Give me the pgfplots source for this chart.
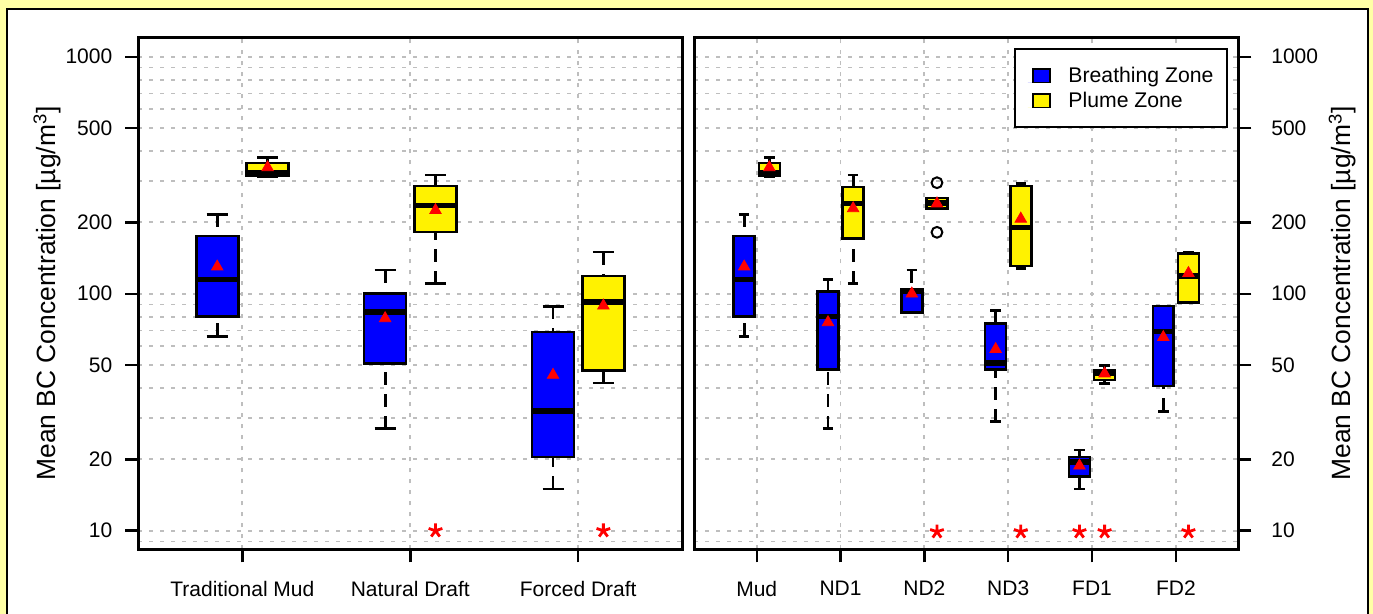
\documentclass[border=0pt]{standalone}
\usepackage{fontspec}
\setmainfont{Liberation Sans}
\usepackage{pgfplots}
\pgfplotsset{compat=1.18}

\definecolor{bgyellow}{RGB}{255,255,166}
\definecolor{gridgray}{RGB}{190,190,190}

\tikzset{
  whisk/.style={black, line width=1.4pt, dash pattern=on 6.5pt off 4.5pt},
  capline/.style={black, line width=1.4pt},
  boxfill/.style={draw=black, line width=1.3pt},
  medline/.style={black, line width=2.8pt},
}

% one box: position, lower whisker, lower quartile, median, upper quartile, upper whisker, fill
\newcommand{\bcbox}[7]{%
  \pgfmathsetmacro\bxa{#1-0.125}%
  \pgfmathsetmacro\bxb{#1+0.125}%
  \pgfmathsetmacro\bca{#1-0.0625}%
  \pgfmathsetmacro\bcb{#1+0.0625}%
  \edef\bcdo{%
    \noexpand\addplot[forget plot, whisk, mark=none] coordinates {(#1,#2) (#1,#3)};
    \noexpand\addplot[forget plot, capline, mark=none] coordinates {(\bca,#2) (\bcb,#2)};
    \noexpand\addplot[forget plot, whisk, mark=none] coordinates {(#1,#6) (#1,#5)};
    \noexpand\addplot[forget plot, capline, mark=none] coordinates {(\bca,#6) (\bcb,#6)};
    \noexpand\addplot[forget plot, boxfill, fill=#7, mark=none] coordinates {(\bxa,#3) (\bxb,#3) (\bxb,#5) (\bxa,#5) (\bxa,#3)} -- cycle;
    \noexpand\addplot[forget plot, medline, mark=none] coordinates {(\bxa,#4) (\bxb,#4)};
  }\bcdo}

\begin{document}
\begin{tikzpicture}
\useasboundingbox (0,0) rectangle (686.5pt,307pt);
\fill[bgyellow] (0,0) rectangle (686.5pt,307pt);
\filldraw[fill=white, draw=black, line width=1pt] (3.5pt,-5pt) rectangle (684pt,302.5pt);

% stove types
\begin{axis}[at={(69.15pt,32.35pt)}, anchor=south west,
  scale only axis, width=272pt, height=256pt,
  ymode=log, ymin=8.348, ymax=1207.6,
  ytick={10,20,50,100,200,500,1000},
  yticklabels={10,20,50,100,200,500,1000},
  minor ytick={9,30,40,60,70,80,90,300,400,600,700,800,900},
  ymajorgrids, yminorgrids, xmajorgrids,
  minor grid style={gridgray, line width=0.9pt, dash pattern=on 2pt off 3.5pt},
  major grid style={gridgray, line width=0.9pt, dash pattern=on 2pt off 3.5pt},
  tick align=outside, major tick length=6.5pt, minor tick length=0pt,
  tick style={black, line width=1.2pt},
  axis line style={line width=1.3pt},
  xtick pos=left, ytick pos=left,
  tick label style={font=\fontsize{10.5}{12}\selectfont},
  yticklabel style={xshift=-3pt},
  xticklabel style={yshift=-6pt},
  ylabel={Mean BC Concentration [µg/m\textsuperscript{3}]},
  ylabel style={font=\fontsize{13.2}{15}\selectfont, anchor=base, at={(axis description cs:-0.1531,0.5)}},
  xmin=0.38, xmax=3.62, xtick={1,2,3},
  xticklabels={Traditional Mud,Natural Draft,Forced Draft}]
  \bcbox{0.85}{66.1}{80.1}{115}{175}{216}{blue}
  \bcbox{1.15}{312}{314}{324}{356}{376}{yellow}
  \bcbox{1.85}{26.9}{50.9}{83.7}{100.4}{126}{blue}
  \bcbox{2.15}{110}{182}{236}{285}{317}{yellow}
  \bcbox{2.85}{15}{20.5}{32}{68.9}{88.5}{blue}
  \bcbox{3.15}{42}{47.3}{92}{118.8}{150}{yellow}
  \addplot[forget plot, only marks, mark=triangle*, mark size=3.3pt, mark options={draw=red, fill=red}]
    coordinates {(0.85,130) (1.15,341) (1.85,78.7) (2.15,225) (2.85,45.4) (3.15,89)};
  \addplot[forget plot, only marks, mark=star, mark size=3.6pt, mark options={draw=red, line width=1.4pt}]
    coordinates {(2.15,10) (3.15,10)};
\end{axis}

% individual stoves
\begin{axis}[at={(347.15pt,32.35pt)}, anchor=south west,
  scale only axis, width=272pt, height=256pt,
  ymode=log, ymin=8.348, ymax=1207.6,
  ytick={10,20,50,100,200,500,1000},
  yticklabels={10,20,50,100,200,500,1000},
  minor ytick={9,30,40,60,70,80,90,300,400,600,700,800,900},
  ymajorgrids, yminorgrids, xmajorgrids,
  minor grid style={gridgray, line width=0.9pt, dash pattern=on 2pt off 3.5pt},
  major grid style={gridgray, line width=0.9pt, dash pattern=on 2pt off 3.5pt},
  tick align=outside, major tick length=6.5pt, minor tick length=0pt,
  tick style={black, line width=1.2pt},
  axis line style={line width=1.3pt},
  xtick pos=left, ytick pos=right, yticklabel pos=right,
  tick label style={font=\fontsize{10.5}{12}\selectfont},
  yticklabel style={xshift=6.5pt},
  xticklabel style={yshift=-6pt},
  ylabel={Mean BC Concentration [µg/m\textsuperscript{3}]},
  ylabel style={font=\fontsize{13.2}{15}\selectfont, anchor=base, at={(axis description cs:1.206,0.5)}},
  xmin=0.255, xmax=6.745, xtick={1,2,3,4,5,6},
  xticklabels={Mud,ND1,ND2,ND3,FD1,FD2},
  legend style={at={(0.9804,0.9797)}, anchor=north east, draw=black, line width=1pt,
    fill=white, font=\fontsize{10.6}{12}\selectfont,
    inner xsep=6.6pt, inner ysep=7.1pt, row sep=0pt, column sep=8.8pt,
    nodes={inner sep=0pt, text height=9.8pt, text depth=2.7pt},
    cells={anchor=base west}},
  legend image code/.code={\path[draw=none] (0pt,0pt) -- (2.5pt,0pt);
    \draw[#1, draw=black, line width=0.9pt] (2.5pt,0pt) rectangle (11.1pt,6.7pt);}]
  \addlegendimage{fill=blue}
  \addlegendentry{Breathing Zone}
  \addlegendimage{fill=yellow}
  \addlegendentry{Plume Zone}
  \bcbox{0.85}{66.1}{80.1}{115}{175}{216}{blue}
  \bcbox{1.15}{312}{314}{324}{356}{376}{yellow}
  \bcbox{1.85}{26.9}{48}{80}{102.4}{115}{blue}
  \bcbox{2.15}{110}{171}{240}{282}{317}{yellow}
  \bcbox{2.85}{83.5}{83.5}{102}{104}{126}{blue}
  \bcbox{3.15}{229}{229}{242}{253}{253}{yellow}
  \bcbox{3.85}{28.8}{48}{50.9}{75}{84.8}{blue}
  \bcbox{4.15}{127.5}{131}{190.6}{285}{292}{yellow}
  \bcbox{4.85}{15}{16.9}{19.5}{20.5}{21.9}{blue}
  \bcbox{5.15}{41.9}{43.2}{46.4}{47.5}{49.9}{yellow}
  \bcbox{5.85}{31.9}{40.8}{69.3}{88.7}{88.7}{blue}
  \bcbox{6.15}{91.6}{91.6}{118.8}{147.5}{150}{yellow}
  % outliers of ND2 plume zone
  \addplot[forget plot, only marks, mark=o, mark size=2.7pt, mark options={black, line width=1pt}]
    coordinates {(3.15,294) (3.15,181.6)};
  \addplot[forget plot, only marks, mark=triangle*, mark size=3.3pt, mark options={draw=red, fill=red}]
    coordinates {(0.85,130) (1.15,341) (1.85,75.7) (2.15,229) (2.85,100) (3.15,240) (3.85,58.3) (4.15,207) (4.85,18.8) (5.15,46) (5.85,65.5) (6.15,122)};
  \addplot[forget plot, only marks, mark=star, mark size=3.6pt, mark options={draw=red, line width=1.4pt}]
    coordinates {(3.15,9.9) (4.15,9.9) (4.85,9.9) (5.15,9.9) (6.15,9.9)};
\end{axis}
\end{tikzpicture}
\end{document}
